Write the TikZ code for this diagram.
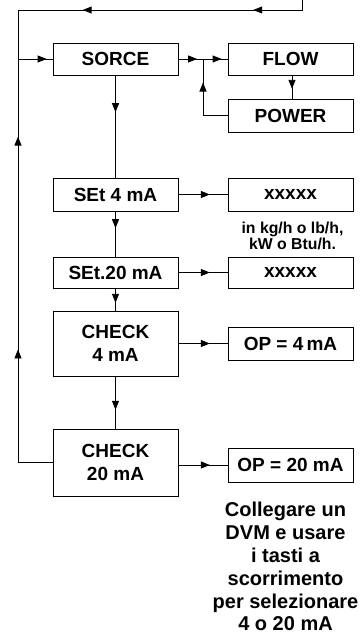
\documentclass[tikz,border=0pt]{standalone}
\usepackage{fontspec}
\setmainfont{Liberation Sans}
\usetikzlibrary{arrows.meta, positioning, decorations.markings}

\begin{document}
\begin{tikzpicture}[x=1pt, y=-1pt, line width=0.9pt,
    >={Triangle[length=9pt,width=7pt]},
    box/.style={draw, minimum width=125pt, inner sep=0pt, align=center,
                font=\fontsize{19}{22.5}\selectfont\bfseries},
    tipat/.style={postaction={decorate, decoration={markings,
                  mark=at position #1 with {\arrow{>}}}}}]

\useasboundingbox (0,0) rectangle (359,637);

% === Main column ===
\node[box, minimum height=32pt] (sorce) at (115.5,59) {SORCE};
\node[box, minimum height=33pt] (set4) at (115.5,194.5) {SEt 4 mA};
\node[box, minimum height=31pt] (set20) at (115.5,272.5) {SEt.20 mA};
\node[box, minimum height=65pt] (check4) at (115.5,343.5) {CHECK\\4 mA};
\node[box, minimum height=67pt] (check20) at (115.5,462.5) {CHECK\\20 mA};

% === Right column ===
\node[box, minimum height=32pt] (flow) at (290.5,59) {FLOW};
\node[box, minimum height=33pt] (power) at (290.5,115.5) {POWER};
\node[box, minimum height=33pt] (val4) at (290.5,194.5) {xxxxx};
\node[font=\fontsize{15.8}{16.6}\selectfont\bfseries, align=center] (units) at (292.5,236)
     {in kg/h o lb/h,\\kW o Btu/h.};
\node[box, minimum height=31pt] (val20) at (290.5,272.5) {xxxxx};
\node[box, minimum height=33pt] (op4) at (290.5,343.5) {OP = 4\,mA};
\node[box, minimum height=34pt] (op20) at (290.5,465) {OP = 20 mA};

% Note below
\node[anchor=north, inner sep=0pt, align=center,
      font=\fontsize{20}{22.9}\selectfont\bfseries] (dvm) at (285.5,501.5)
     {Collegare un\\DVM e usare\\i tasti a\\scorrimento\\per selezionare\\4 o 20 mA};

% === Loop lines ===
\coordinate (top) at (302,0);
\coordinate (corner) at (18,10);
\coordinate (join) at (203,59);
\draw[tipat=0.2, tipat=0.78] (top) |- (corner);
\draw[tipat=0.303, tipat=0.74] (check20.west) -| (corner);
\draw[tipat=0.83] (corner |- sorce.west) -- (sorce.west);

% SORCE branch
\draw[tipat=0.38, tipat=0.88] (sorce.east) -- (flow.west);
\draw[tipat=0.58] (flow.south -| 292,0) -- (power.north -| 292,0);
\draw[tipat=0.71] (power.west) -| (join);

% Vertical chain
\draw[tipat=0.36] (sorce) -- (set4);
\draw[tipat=0.37] (set4) -- (set20);
\draw[tipat=0.65] (set20) -- (check4);
\draw[tipat=0.64] (check4) -- (check20);

% To the right
\draw[tipat=0.64] (set4) -- (val4);
\draw[tipat=0.64] (set20) -- (val20);
\draw[tipat=0.64] (check4) -- (op4);
\draw[tipat=0.64] (op20.west -| check20.east) -- (op20.west);

\end{tikzpicture}
\end{document}
